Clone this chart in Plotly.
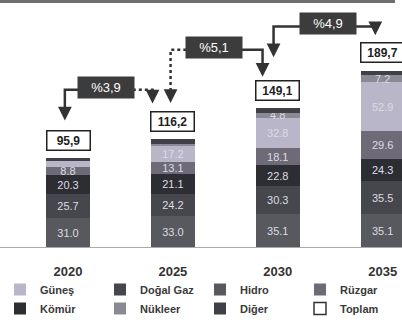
import plotly.graph_objects as go

# ---------------- data ----------------
years = ['2020', '2025', '2030', '2035']
hidro = [31.0, 33.0, 35.1, 35.1]
dogal_gaz = [25.7, 24.2, 30.3, 35.5]
komur = [20.3, 21.1, 22.8, 24.3]
ruzgar = [8.8, 13.1, 18.1, 29.6]
gunes = [6.7, 17.2, 32.8, 52.9]
nukleer = [0.0, 2.4, 4.8, 7.2]
diger = [3.4, 5.2, 5.2, 5.1]
toplam = [95.9, 116.2, 149.1, 189.7]
growth = ['%3,9', '%5,1', '%4,9']

# ---------------- style ----------------
FONT = 'Liberation Sans, Arial, sans-serif'
W, H = 402, 323
BASE_PX = 247          # pixel row of the value axis zero
PX_PER_UNIT = 0.93
Y_TOP = BASE_PX / PX_PER_UNIT
Y_BOT = -(H - BASE_PX) / PX_PER_UNIT
CAT_PX = 104.88        # pixels between categories
FIRST_PX = 68          # pixel column of first category
X_RANGE = [-FIRST_PX / CAT_PX, (W - FIRST_PX) / CAT_PX]

series = [  # stack order bottom -> top
    ('Hidro', hidro, '#58585f', 3, 8),
    ('Doğal Gaz', dogal_gaz, '#46464d', 2, 8),
    ('Kömür', komur, '#2d2d34', 5, 8),
    ('Rüzgar', ruzgar, '#6e6a78', 4, 8),
    ('Güneş', gunes, '#b9b6c9', 1, 8),
    ('Nükleer', nukleer, '#8a8a94', 6, 4),
    ('Diğer', diger, '#404048', 7, 1e9),
]

fig = go.Figure()
for name, vals, color, rank, minlab in series:
    labels = [f'{v:.1f}' if v >= minlab else '' for v in vals]
    fig.add_trace(go.Bar(
        x=years, y=vals, name=name, legendrank=rank,
        marker=dict(color=color, line=dict(width=0)),
        text=labels, textposition='inside', insidetextanchor='middle',
        textfont=dict(family=FONT, size=11, color='#dcdce2'),
        hoverinfo='skip', width=0.42,
    ))

fig.add_trace(go.Bar(
    x=years, y=[None] * len(years), name='Toplam', legendrank=8,
    marker=dict(color='white', line=dict(color='#333', width=1.5)),
    hoverinfo='skip',
))

# totals boxes
for i, t in enumerate(toplam):
    fig.add_annotation(
        x=i, y=t + 19, xref='x', yref='y', text=f'{t:.1f}'.replace('.', ','),
        showarrow=False, font=dict(family=FONT, size=12, color='#222', weight='bold'),
        bgcolor='white', bordercolor='#222', borderwidth=1.5, borderpad=2, width=38,
    )

# growth boxes and connectors
box_x = [0.358, 1.388, 2.475]
box_y = [172, 215, 240]
left_vx = [-0.03, 0.978, 1.96]
right_vx = [0.806, 1.855, 2.93]
left_gap = [40, 38.6, 55]
right_gap = [38, 34, 38]
left_dash = ['solid', 'dot', 'solid']
right_dash = ['dot', 'solid', 'solid']
LINE = '#333'
for k, g in enumerate(growth):
    hx0 = box_x[k] - 0.26
    hx1 = box_x[k] + 0.26
    hy = box_y[k] - 3
    lt = toplam[k] + left_gap[k]
    rt = toplam[k + 1] + right_gap[k]
    for vx, x0, tip, dash in ((left_vx[k], hx0, lt, left_dash[k]), (right_vx[k], hx1, rt, right_dash[k])):
        fig.add_shape(type='path', xref='x', yref='y',
                      path=f'M {x0},{hy} L {vx},{hy} L {vx},{tip + 5}',
                      line=dict(color=LINE, width=2.5, dash=dash))
        fig.add_annotation(x=vx, y=tip, xref='x', yref='y', ax=0, ay=-9, text='',
                           showarrow=True, arrowhead=2, arrowsize=1.1, arrowwidth=2.5,
                           arrowcolor=LINE)
    fig.add_annotation(
        x=box_x[k], y=box_y[k], xref='x', yref='y', text=g, showarrow=False,
        font=dict(family=FONT, size=13, color='white'),
        bgcolor='#3c3c3c', borderpad=3, width=50,
    )

# top banner line
fig.add_shape(type='rect', xref='paper', yref='paper',
              x0=0, x1=395 / W, y0=1 - 3 / H, y1=1.0,
              fillcolor='#6e6e6e', line=dict(width=0))

fig.update_layout(
    width=W, height=H,
    margin=dict(l=0, r=0, t=0, b=0, autoexpand=False),
    paper_bgcolor='white', plot_bgcolor='white',
    barmode='stack',
    font=dict(family=FONT),
    uniformtext=dict(minsize=10, mode='show'),
    showlegend=True,
    legend=dict(orientation='h', x=0, y=(H - 275) / H, xanchor='left', yanchor='top',
                entrywidth=55, entrywidthmode='pixels', traceorder='normal',
                font=dict(family=FONT, size=11, color='#3a3a3a', weight='bold'),
                itemwidth=30, tracegroupgap=0, bgcolor='rgba(0,0,0,0)'),
)
fig.update_xaxes(range=X_RANGE, showline=True, linecolor='#aaa', linewidth=1,
                 anchor='free', position=(H - BASE_PX) / H, automargin=False,
                 ticks='', showgrid=False, ticklabelstandoff=12,
                 tickfont=dict(family=FONT, size=13, color='#333', weight='bold'))
fig.update_yaxes(range=[Y_BOT, Y_TOP], visible=False, showgrid=False, automargin=False)

fig.write_html('out.html', config={'displayModeBar': False},
               post_script="document.body.style.margin='0';")
